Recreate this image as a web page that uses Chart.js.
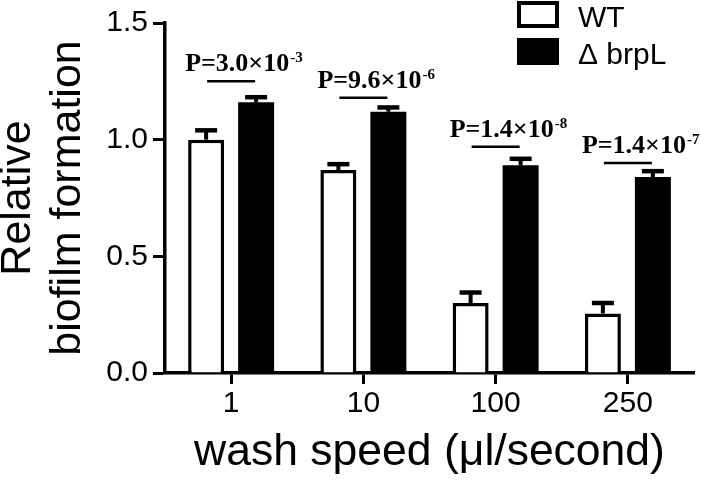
<!DOCTYPE html>
<html>
<head>
<meta charset="utf-8">
<script src="https://cdn.jsdelivr.net/npm/chart.js@4.4.1/dist/chart.umd.min.js"></script>
<style>
  html, body { margin: 0; padding: 0; background: #fff; }
  #wrap { width: 701px; height: 482px; position: relative; }
</style>
</head>
<body>
<div id="wrap"><canvas id="biofilm_chart"></canvas></div>
<script>
// Biofilm relativo x velocidade de lavagem

const washSpeeds = ['1', '10', '100', '250'];
const wtValues = [1.00, 0.87, 0.30, 0.255];
const wtErrors = [0.04, 0.025, 0.045, 0.045];
const brpLValues = [1.16, 1.12, 0.89, 0.84];
const brpLErrors = [0.022, 0.018, 0.028, 0.025];

// valores de P sobre cada par e altura da linha
const pMantissa = ['3.0', '9.6', '1.4', '1.4'];
const pExponent = ['-3', '-6', '-8', '-7'];
const pLineLevel = [1.25, 1.18, 0.97, 0.90];

const FONT = 'Liberation Sans';
const SERIF = 'Liberation Serif';

// barras de erro (so para cima)
const errorBars = {
    id: 'errorBars',
    afterDatasetsDraw(chart) {
        const ctx = chart.ctx;
        const y = chart.scales.y;
        chart.data.datasets.forEach((ds, d) => {
            const meta = chart.getDatasetMeta(d);
            meta.data.forEach((bar, i) => {
                const top = y.getPixelForValue(ds.data[i] + ds.errors[i]);
                ctx.save();
                ctx.strokeStyle = '#000';
                ctx.lineWidth = 4;
                ctx.beginPath();
                ctx.moveTo(bar.x, bar.y);
                ctx.lineTo(bar.x, top);
                ctx.stroke();
                ctx.lineWidth = 4.5;
                ctx.beginPath();
                ctx.moveTo(bar.x - 11, top);
                ctx.lineTo(bar.x + 11, top);
                ctx.stroke();
                ctx.restore();
            });
        });
    }
};

// textos P=...x10^n com a linha embaixo
const pValues = {
    id: 'pValues',
    afterDraw(chart) {
        const { ctx, scales: { x, y } } = chart;
        ctx.save();
        pMantissa.forEach((m, i) => {
            const cx = x.getPixelForValue(i);
            const ly = y.getPixelForValue(pLineLevel[i]);
            ctx.strokeStyle = '#000';
            ctx.lineWidth = 2.5;
            ctx.beginPath();
            ctx.moveTo(cx - 24, ly);
            ctx.lineTo(cx + 24, ly);
            ctx.stroke();

            const main = 'P=' + m + '×10';
            const left = cx - 46;
            ctx.fillStyle = '#000';
            ctx.textAlign = 'left';
            ctx.textBaseline = 'alphabetic';
            ctx.font = 'bold 26px "' + SERIF + '"';
            ctx.fillText(main, left, ly - 10);
            const w = ctx.measureText(main).width;
            ctx.font = 'bold 15px "' + SERIF + '"';
            ctx.fillText(pExponent[i], left + w + 1, ly - 19);
        });
        ctx.restore();
    }
};

// legenda com caixas no canto superior direito
const boxLegend = {
    id: 'boxLegend',
    afterDraw(chart) {
        const ctx = chart.ctx;
        ctx.save();
        chart.data.datasets.forEach((ds, d) => {
            const top = 3 + d * 37;
            ctx.fillStyle = ds.backgroundColor;
            ctx.fillRect(519, top, 38, 23);
            ctx.lineWidth = 4;
            ctx.strokeStyle = '#000';
            ctx.strokeRect(519, top, 38, 23);
            ctx.fillStyle = '#000';
            ctx.font = '30px "' + FONT + '"';
            ctx.textAlign = 'left';
            ctx.textBaseline = 'alphabetic';
            ctx.fillText(ds.label, 578, top + 24);
        });
        ctx.restore();
    }
};

const ctx1 = document.getElementById('biofilm_chart');
const chartBiofilm = new Chart(ctx1, {
    type: 'bar',
    data: {
        labels: washSpeeds,
        datasets: [{
            label: 'WT',
            data: wtValues,
            errors: wtErrors,
            backgroundColor: '#ffffff',
            borderColor: '#000000',
            borderWidth: 3.5,
            barPercentage: 0.72,
            categoryPercentage: 0.756
        }, {
            label: 'Δ brpL',
            data: brpLValues,
            errors: brpLErrors,
            backgroundColor: '#000000',
            borderColor: '#000000',
            borderWidth: 0,
            barPercentage: 0.72,
            categoryPercentage: 0.756
        }]
    },
    options: {
        responsive: true,
        maintainAspectRatio: false,
        animation: false,
        layout: { padding: { top: 23, right: 7, left: 0, bottom: 0 } },
        plugins: {
            legend: { display: false },
            tooltip: { enabled: false }
        },
        scales: {
            x: {
                ticks: {
                    color: '#000',
                    font: { family: FONT, size: 30 },
                    padding: 2
                },
                grid: {
                    offset: false,
                    drawOnChartArea: false,
                    tickLength: 11,
                    tickWidth: 3,
                    color: '#000'
                },
                border: { color: '#000', width: 3.5 },
                title: {
                    display: true,
                    text: 'wash speed (μl/second)',
                    color: '#000',
                    font: { family: FONT, size: 44.5, lineHeight: 1.16 },
                    padding: { top: 0, bottom: 3 }
                },
                afterFit(scale) { scale.height = 109; }
            },
            y: {
                min: 0,
                max: 1.5,
                ticks: {
                    stepSize: 0.5,
                    color: '#000',
                    font: { family: FONT, size: 30 },
                    padding: 5,
                    callback: v => v.toFixed(1)
                },
                grid: {
                    drawOnChartArea: false,
                    tickLength: 12,
                    tickWidth: 3,
                    color: '#000'
                },
                border: { color: '#000', width: 3.5 },
                title: {
                    display: true,
                    text: ['Relative', 'biofilm formation'],
                    color: '#000',
                    font: { family: FONT, size: 43, lineHeight: 1.16 },
                    padding: { top: -7, bottom: 0 }
                },
                afterFit(scale) { scale.width = 165; }
            }
        }
    },
    plugins: [errorBars, pValues, boxLegend]
});
</script>
</body>
</html>
